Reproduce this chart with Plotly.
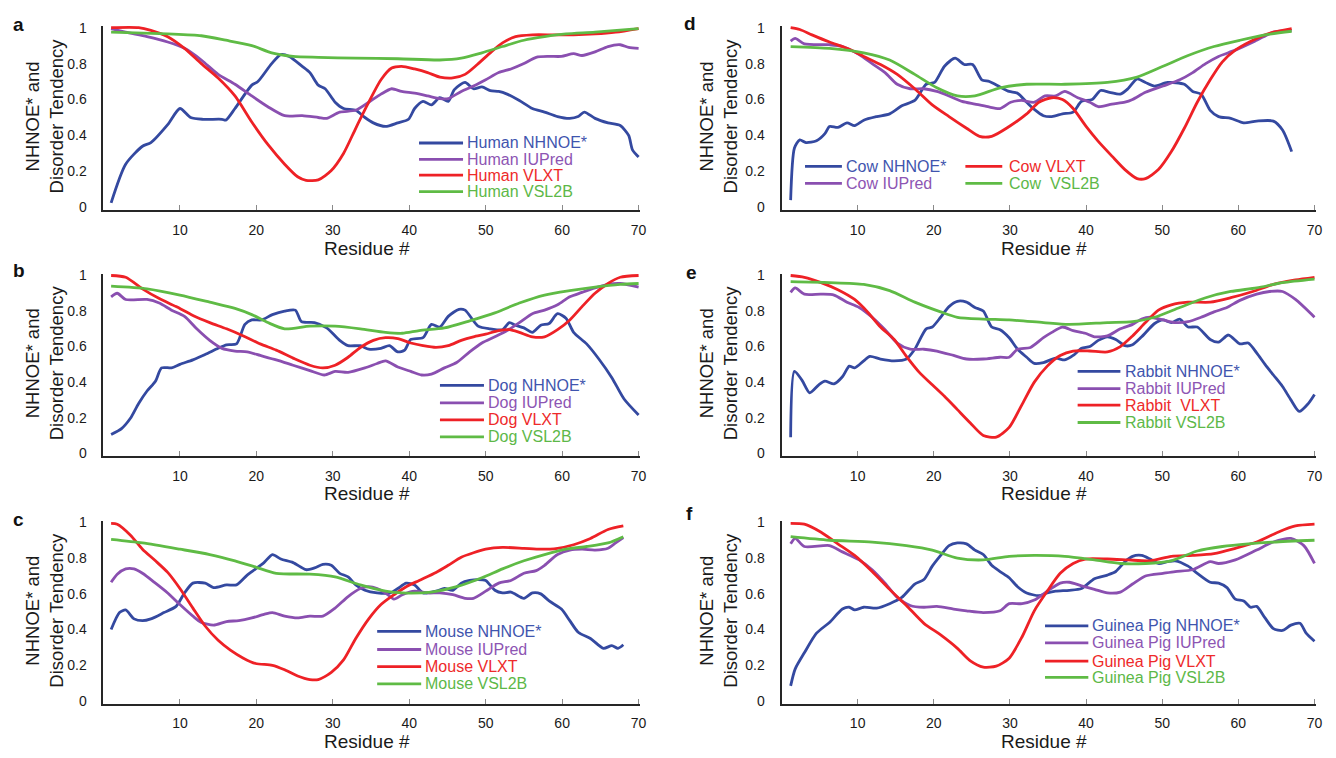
import plotly.graph_objects as go

# ---------------- Panel a: Human ----------------
human_nhnoe_x = [1, 2.9, 5.1, 6.2, 8.4, 10, 11.4, 13, 15.5, 16, 17.2, 19.4, 20.2, 22, 23.2, 24.3, 26, 27, 28.1, 29, 30.3, 31.4, 33, 34.2, 35.3, 36.9, 38.5, 39.9, 40.7, 41.8, 42.9, 44, 45.1, 45.9, 47.3, 48.4, 49.5, 50.6, 51.7, 52.8, 54.4, 56.1, 57.7, 59.4, 61, 62.1, 62.9, 64.3, 66, 67.6, 68.7, 69.2, 70]
human_nhnoe_y = [0.025, 0.24, 0.34, 0.36, 0.46, 0.55, 0.50, 0.49, 0.49, 0.485, 0.55, 0.68, 0.70, 0.80, 0.85, 0.84, 0.785, 0.75, 0.68, 0.66, 0.585, 0.55, 0.54, 0.50, 0.47, 0.45, 0.47, 0.49, 0.55, 0.59, 0.57, 0.61, 0.59, 0.655, 0.695, 0.66, 0.67, 0.65, 0.645, 0.63, 0.595, 0.55, 0.53, 0.505, 0.495, 0.505, 0.53, 0.495, 0.47, 0.455, 0.40, 0.32, 0.28]
human_iupred_x = [1, 2.9, 5.7, 8.4, 10.6, 12.8, 15, 17.2, 19.4, 21.5, 23.7, 26, 28.1, 29.2, 30.9, 33, 34.7, 36.3, 37.7, 39, 40.7, 42.4, 44, 45.1, 46.8, 48.4, 50, 51.7, 53.3, 55, 56.6, 58.3, 59.9, 61.5, 62.6, 64.3, 66, 67.6, 68.7, 70]
human_iupred_y = [0.995, 0.975, 0.95, 0.92, 0.885, 0.82, 0.74, 0.685, 0.62, 0.56, 0.51, 0.51, 0.50, 0.495, 0.53, 0.54, 0.585, 0.63, 0.66, 0.645, 0.635, 0.62, 0.605, 0.605, 0.645, 0.675, 0.71, 0.75, 0.77, 0.80, 0.835, 0.84, 0.84, 0.855, 0.845, 0.865, 0.895, 0.905, 0.89, 0.885]
human_vlxt_x = [1, 4.6, 6.2, 8.4, 10.6, 12.8, 15, 17.2, 19.4, 21.5, 23.7, 25.4, 26.5, 28.1, 29.8, 31.4, 33, 34.7, 36.3, 37.7, 39, 40.7, 42.4, 44, 45.7, 47.3, 48.9, 50.6, 52.2, 53.9, 56.1, 58.8, 61.5, 64.3, 67, 70]
human_vlxt_y = [1.0, 1.0, 0.985, 0.95, 0.885, 0.80, 0.72, 0.62, 0.475, 0.35, 0.24, 0.17, 0.15, 0.153, 0.205, 0.30, 0.44, 0.585, 0.71, 0.775, 0.785, 0.77, 0.75, 0.725, 0.72, 0.74, 0.795, 0.86, 0.915, 0.95, 0.96, 0.96, 0.96, 0.965, 0.975, 0.995]
human_vsl2b_x = [1, 8.4, 12.8, 16, 19.4, 22, 24.8, 28.1, 33, 38.5, 44, 46.8, 49.5, 52.2, 55, 57.7, 60.5, 64.3, 70]
human_vsl2b_y = [0.975, 0.965, 0.955, 0.93, 0.90, 0.86, 0.84, 0.835, 0.83, 0.827, 0.82, 0.83, 0.86, 0.895, 0.93, 0.95, 0.965, 0.975, 0.995]

# ---------------- Panel b: Dog ----------------
dog_nhnoe_x = [1, 2.4, 3.5, 4.6, 5.7, 6.8, 7.6, 8.9, 10, 11.7, 13.3, 15, 16.1, 17.4, 18.5, 19.4, 20.7, 22.1, 23.7, 25.1, 25.9, 27.6, 29.2, 30.9, 32, 33.6, 34.7, 36.3, 37.4, 38.5, 39.4, 40.2, 41.8, 42.9, 44, 45.1, 46.5, 47.3, 49, 50.6, 52.2, 53.1, 53.9, 55, 56.1, 57.2, 58.3, 59.4, 60.5, 61.5, 63.2, 64.8, 66.5, 68.1, 70]
dog_nhnoe_y = [0.105, 0.14, 0.195, 0.28, 0.35, 0.405, 0.48, 0.48, 0.50, 0.525, 0.555, 0.59, 0.61, 0.615, 0.725, 0.75, 0.75, 0.78, 0.80, 0.805, 0.74, 0.735, 0.705, 0.635, 0.605, 0.605, 0.585, 0.59, 0.605, 0.57, 0.58, 0.64, 0.65, 0.725, 0.71, 0.77, 0.81, 0.805, 0.715, 0.70, 0.695, 0.735, 0.72, 0.705, 0.68, 0.72, 0.73, 0.785, 0.76, 0.68, 0.615, 0.53, 0.425, 0.305, 0.215]
dog_iupred_x = [1, 1.8, 2.9, 5.7, 7.3, 8.9, 10.6, 12.2, 13.9, 15.5, 17.2, 18.8, 20.5, 22.6, 24.8, 27, 28.9, 30.3, 32, 34.2, 35.8, 36.9, 38.5, 40.2, 41.6, 42.9, 44.6, 46.2, 47.9, 49.5, 51.2, 52.8, 54.4, 56.1, 57.7, 59.4, 61, 62.6, 64.3, 66, 67.6, 70]
dog_iupred_y = [0.88, 0.90, 0.865, 0.865, 0.845, 0.805, 0.77, 0.70, 0.635, 0.59, 0.575, 0.57, 0.55, 0.525, 0.495, 0.465, 0.44, 0.46, 0.455, 0.48, 0.505, 0.52, 0.485, 0.46, 0.44, 0.445, 0.48, 0.51, 0.57, 0.62, 0.655, 0.69, 0.735, 0.785, 0.805, 0.835, 0.88, 0.905, 0.93, 0.95, 0.955, 0.935]
dog_vlxt_x = [1, 2.9, 5.1, 7.3, 9.5, 11.7, 13.9, 16.1, 18.3, 20.5, 22.6, 24.8, 27, 28.7, 30.3, 32, 33.6, 35.3, 36.9, 38.5, 40.2, 41.8, 43.5, 45.1, 46.8, 48.4, 50, 51.7, 53.1, 54.4, 56.1, 57.7, 59.4, 61, 62.6, 64.3, 66, 67.6, 70]
dog_vlxt_y = [1.0, 0.99, 0.925, 0.87, 0.825, 0.775, 0.735, 0.70, 0.66, 0.615, 0.58, 0.535, 0.495, 0.48, 0.495, 0.54, 0.595, 0.635, 0.65, 0.645, 0.62, 0.605, 0.595, 0.605, 0.635, 0.655, 0.67, 0.69, 0.695, 0.68, 0.655, 0.655, 0.695, 0.75, 0.825, 0.90, 0.955, 0.99, 1.0]
dog_vsl2b_x = [1, 5.7, 10, 13.9, 17.2, 19.4, 21.5, 23.7, 27, 30.3, 33.6, 36.9, 39.1, 41.3, 44.6, 47.9, 51.2, 54.4, 57.7, 61, 64.3, 67.6, 70]
dog_vsl2b_y = [0.94, 0.925, 0.89, 0.85, 0.815, 0.78, 0.735, 0.70, 0.715, 0.715, 0.70, 0.68, 0.675, 0.69, 0.705, 0.745, 0.79, 0.845, 0.89, 0.915, 0.935, 0.95, 0.955]

# ---------------- Panel c: Mouse ----------------
mouse_nhnoe_x = [1, 2.1, 2.9, 4, 5.1, 6.2, 7.9, 9.5, 10.6, 11.7, 13.3, 14.4, 16.1, 17.4, 18.8, 19.9, 21, 22.1, 23.2, 24.8, 26.5, 27.6, 28.7, 29.8, 30.9, 32, 33, 34.2, 35.8, 37.5, 38.5, 39.6, 40.7, 41.8, 43.5, 44.6, 45.7, 46.8, 47.9, 49, 50, 51.2, 52.2, 53.3, 55, 56.1, 57.2, 58.3, 59.9, 61, 62.1, 63.7, 65.4, 66.5, 67.3, 68]
mouse_nhnoe_y = [0.40, 0.495, 0.51, 0.46, 0.45, 0.46, 0.495, 0.53, 0.605, 0.66, 0.66, 0.635, 0.65, 0.65, 0.705, 0.74, 0.775, 0.82, 0.795, 0.775, 0.735, 0.745, 0.765, 0.76, 0.715, 0.695, 0.65, 0.62, 0.605, 0.605, 0.63, 0.66, 0.65, 0.605, 0.615, 0.63, 0.62, 0.66, 0.675, 0.68, 0.675, 0.62, 0.605, 0.61, 0.575, 0.605, 0.60, 0.56, 0.515, 0.45, 0.385, 0.35, 0.295, 0.31, 0.295, 0.315]
mouse_iupred_x = [1, 1.8, 2.9, 4, 5.1, 6.8, 8.4, 10, 11.7, 12.8, 14.4, 16.1, 17.7, 19.4, 21, 22.1, 23.7, 25.4, 27, 28.7, 30.3, 32, 33.6, 34.7, 35.8, 36.9, 38, 39.1, 40.7, 42.4, 44, 45.7, 47.3, 48.4, 50, 51.7, 53.3, 55, 56.6, 57.7, 59.4, 61, 62.6, 64.3, 66, 67, 68]
mouse_iupred_y = [0.665, 0.71, 0.74, 0.74, 0.715, 0.66, 0.605, 0.54, 0.475, 0.44, 0.425, 0.445, 0.45, 0.465, 0.485, 0.495, 0.475, 0.465, 0.475, 0.475, 0.52, 0.585, 0.63, 0.64, 0.63, 0.605, 0.57, 0.595, 0.615, 0.605, 0.605, 0.595, 0.575, 0.575, 0.615, 0.66, 0.675, 0.715, 0.73, 0.76, 0.82, 0.845, 0.85, 0.845, 0.855, 0.885, 0.915]
mouse_vlxt_x = [1, 1.8, 3.5, 5.1, 6.8, 8.4, 10, 11.7, 13.3, 15, 16.6, 18.3, 19.9, 22.1, 23.7, 25.4, 27, 28.1, 29.8, 31.4, 33, 34.7, 36.3, 38, 39.6, 41.3, 43.5, 45.1, 46.8, 48.4, 50, 52.2, 55, 57.2, 59.4, 61.5, 63.7, 66, 68]
mouse_vlxt_y = [0.995, 0.99, 0.93, 0.85, 0.785, 0.72, 0.63, 0.52, 0.42, 0.34, 0.285, 0.24, 0.21, 0.20, 0.175, 0.14, 0.12, 0.12, 0.16, 0.23, 0.35, 0.46, 0.54, 0.595, 0.64, 0.675, 0.72, 0.76, 0.805, 0.83, 0.85, 0.86, 0.855, 0.85, 0.855, 0.875, 0.91, 0.96, 0.98]
mouse_vsl2b_x = [1, 5.1, 10, 13.9, 17.2, 19.9, 22.6, 27, 30.3, 33.6, 36.9, 39.1, 42.9, 46.2, 49.5, 52.2, 55, 57.7, 60.5, 63.2, 66, 68]
mouse_vsl2b_y = [0.905, 0.885, 0.85, 0.82, 0.785, 0.75, 0.715, 0.71, 0.695, 0.65, 0.615, 0.605, 0.61, 0.64, 0.69, 0.74, 0.785, 0.82, 0.85, 0.865, 0.885, 0.92]

# ---------------- Panel d: Cow ----------------
cow_nhnoe_x = [1.2, 1.7, 2.4, 3.2, 4.6, 5.7, 6.3, 7.4, 8.6, 9.6, 10.8, 12.5, 14.2, 15.8, 17.5, 19.0, 20.1, 21.4, 22.8, 24.0, 25.1, 26.3, 27.3, 28.7, 29.9, 31.0, 32.2, 33.2, 34.4, 35.5, 36.9, 38.3, 39.4, 40.8, 41.9, 43.1, 44.5, 45.5, 46.7, 47.8, 49.0, 50.7, 52.9, 54.0, 55.1, 56.3, 57.4, 59.0, 60.7, 62.4, 64.6, 65.8, 67]
cow_nhnoe_y = [0.04, 0.33, 0.375, 0.36, 0.37, 0.41, 0.45, 0.445, 0.47, 0.455, 0.485, 0.505, 0.52, 0.565, 0.595, 0.685, 0.695, 0.785, 0.83, 0.795, 0.795, 0.71, 0.70, 0.67, 0.645, 0.635, 0.585, 0.545, 0.51, 0.505, 0.52, 0.53, 0.59, 0.60, 0.65, 0.64, 0.63, 0.66, 0.715, 0.695, 0.675, 0.695, 0.685, 0.645, 0.63, 0.54, 0.505, 0.495, 0.47, 0.48, 0.48, 0.43, 0.31]
cow_iupred_x = [1.2, 1.8, 3.0, 6.3, 8.0, 10.2, 11.9, 13.6, 15.2, 16.9, 18.7, 20.4, 22.0, 23.7, 25.4, 27.1, 28.7, 30.1, 31.5, 33.2, 34.6, 36.0, 37.2, 38.9, 40.5, 41.6, 43.4, 45.1, 46.1, 47.8, 50.1, 52.3, 54.0, 55.7, 57.4, 59.6, 62.4, 64.6, 67]
cow_iupred_y = [0.925, 0.94, 0.91, 0.905, 0.895, 0.85, 0.80, 0.75, 0.685, 0.66, 0.66, 0.645, 0.62, 0.59, 0.575, 0.56, 0.55, 0.585, 0.595, 0.585, 0.62, 0.62, 0.645, 0.61, 0.585, 0.56, 0.575, 0.585, 0.60, 0.64, 0.675, 0.71, 0.75, 0.80, 0.84, 0.875, 0.93, 0.975, 0.985]
cow_vlxt_x = [1.2, 2.4, 4.0, 6.3, 8.6, 10.8, 13.0, 15.2, 17.5, 19.8, 22.0, 24.3, 26.0, 27.6, 29.9, 32.2, 33.8, 35.5, 36.9, 38.3, 40.0, 41.6, 43.4, 45.1, 46.7, 47.8, 49.5, 51.2, 52.9, 54.6, 56.3, 57.9, 59.6, 62.4, 64.6, 67]
cow_vlxt_y = [1.0, 0.99, 0.96, 0.92, 0.885, 0.84, 0.795, 0.74, 0.66, 0.57, 0.505, 0.44, 0.395, 0.395, 0.45, 0.52, 0.585, 0.61, 0.60, 0.55, 0.45, 0.367, 0.285, 0.21, 0.16, 0.16, 0.21, 0.31, 0.44, 0.585, 0.71, 0.81, 0.875, 0.94, 0.975, 0.995]
cow_vsl2b_x = [1.2, 6.3, 10.8, 14.2, 17.5, 20.4, 23.1, 25.4, 28.7, 32.2, 37.2, 42.8, 46.7, 50.1, 53.4, 56.8, 60.2, 63.5, 67]
cow_vsl2b_y = [0.895, 0.885, 0.86, 0.82, 0.74, 0.665, 0.62, 0.62, 0.665, 0.685, 0.685, 0.695, 0.725, 0.785, 0.845, 0.895, 0.93, 0.96, 0.98]

# ---------------- Panel e: Rabbit ----------------
rabbit_nhnoe_x = [1.2, 1.7, 2.7, 3.7, 4.9, 5.7, 6.9, 8.0, 8.9, 9.6, 10.8, 11.6, 13.0, 14.8, 16.4, 17.5, 19.0, 19.8, 20.9, 22.0, 23.1, 24.3, 25.4, 26.5, 27.6, 28.7, 29.9, 31.0, 32.2, 33.2, 34.4, 36.0, 37.2, 38.3, 39.4, 40.5, 41.6, 42.8, 43.9, 45.1, 46.1, 47.3, 49.0, 50.1, 51.2, 52.3, 53.4, 54.6, 56.3, 57.4, 58.7, 60.2, 61.3, 62.4, 63.5, 64.6, 65.8, 66.9, 68.0, 69.2, 70]
rabbit_nhnoe_y = [0.09, 0.46, 0.41, 0.34, 0.385, 0.405, 0.39, 0.43, 0.49, 0.48, 0.52, 0.545, 0.53, 0.52, 0.53, 0.585, 0.70, 0.71, 0.765, 0.825, 0.855, 0.85, 0.82, 0.80, 0.71, 0.695, 0.65, 0.585, 0.54, 0.505, 0.51, 0.535, 0.525, 0.55, 0.59, 0.60, 0.635, 0.655, 0.64, 0.605, 0.61, 0.655, 0.73, 0.75, 0.735, 0.755, 0.71, 0.71, 0.64, 0.625, 0.665, 0.615, 0.62, 0.565, 0.50, 0.44, 0.375, 0.30, 0.235, 0.28, 0.33]
rabbit_iupred_x = [1.2, 1.8, 3.0, 5.2, 6.9, 8.6, 10.2, 11.9, 13.6, 15.2, 16.9, 18.7, 20.4, 22.6, 24.3, 26.5, 28.7, 29.9, 31.0, 32.7, 34.4, 35.5, 36.9, 38.3, 39.9, 41.1, 42.8, 44.5, 46.1, 47.3, 48.4, 50.1, 51.7, 53.4, 55.1, 56.8, 58.5, 60.2, 62.4, 64.1, 65.8, 67.5, 70]
rabbit_iupred_y = [0.905, 0.93, 0.895, 0.895, 0.89, 0.85, 0.82, 0.765, 0.695, 0.62, 0.585, 0.585, 0.575, 0.55, 0.53, 0.53, 0.54, 0.54, 0.585, 0.595, 0.65, 0.68, 0.71, 0.69, 0.675, 0.655, 0.66, 0.70, 0.725, 0.755, 0.765, 0.75, 0.735, 0.74, 0.765, 0.795, 0.82, 0.86, 0.895, 0.91, 0.91, 0.865, 0.765]
rabbit_vlxt_x = [1.2, 3.0, 5.2, 7.4, 9.6, 11.3, 13.0, 14.8, 16.4, 18.1, 19.8, 21.4, 23.1, 24.8, 26.5, 28.2, 29.9, 31.6, 33.2, 34.9, 36.6, 38.3, 40.5, 42.8, 44.5, 46.1, 47.8, 49.5, 51.2, 53.4, 56.3, 59.0, 61.9, 64.6, 67.5, 70]
rabbit_vlxt_y = [1.0, 0.99, 0.96, 0.92, 0.865, 0.795, 0.71, 0.64, 0.545, 0.455, 0.385, 0.32, 0.245, 0.17, 0.10, 0.09, 0.145, 0.275, 0.40, 0.49, 0.55, 0.575, 0.575, 0.57, 0.60, 0.66, 0.735, 0.805, 0.835, 0.85, 0.85, 0.875, 0.91, 0.95, 0.975, 0.99]
rabbit_vsl2b_x = [1.2, 6.3, 10.8, 14.2, 17.5, 20.9, 23.1, 26.5, 29.9, 34.4, 37.7, 42.8, 46.1, 49.0, 52.3, 55.7, 59.0, 62.4, 65.8, 70]
rabbit_vsl2b_y = [0.965, 0.96, 0.95, 0.915, 0.85, 0.795, 0.765, 0.755, 0.75, 0.735, 0.725, 0.735, 0.74, 0.765, 0.82, 0.875, 0.91, 0.93, 0.96, 0.98]

# ---------------- Panel f: Guinea Pig ----------------
guinea_nhnoe_x = [1.2, 1.8, 3.0, 4.6, 6.3, 8.0, 8.9, 9.6, 10.8, 12.5, 14.2, 15.8, 17.5, 18.7, 19.8, 20.9, 22.0, 23.1, 24.3, 25.4, 26.5, 27.6, 28.7, 29.9, 31.0, 32.2, 33.8, 34.9, 36.0, 37.8, 39.4, 41.1, 42.8, 43.9, 45.1, 46.1, 47.3, 48.4, 49.5, 50.7, 51.7, 53.4, 54.6, 56.3, 57.4, 58.5, 59.6, 60.7, 61.6, 62.4, 63.5, 64.6, 65.8, 66.9, 68.1, 68.9, 70]
guinea_nhnoe_y = [0.085, 0.18, 0.27, 0.38, 0.44, 0.515, 0.525, 0.51, 0.525, 0.52, 0.545, 0.58, 0.655, 0.68, 0.755, 0.815, 0.87, 0.885, 0.88, 0.845, 0.82, 0.76, 0.725, 0.69, 0.64, 0.605, 0.59, 0.605, 0.615, 0.62, 0.63, 0.685, 0.705, 0.725, 0.78, 0.81, 0.815, 0.795, 0.77, 0.78, 0.785, 0.755, 0.715, 0.665, 0.66, 0.635, 0.57, 0.56, 0.525, 0.53, 0.465, 0.405, 0.395, 0.425, 0.435, 0.38, 0.335]
guinea_iupred_x = [1.2, 1.8, 3.0, 6.3, 8.0, 10.2, 11.9, 13.6, 15.2, 16.9, 18.7, 20.4, 22.6, 24.3, 26.5, 28.7, 29.9, 31.6, 33.2, 34.9, 36.6, 37.8, 39.4, 41.1, 42.8, 44.5, 46.1, 47.8, 50.1, 51.7, 54.0, 56.3, 57.4, 59.6, 62.4, 64.6, 66.9, 68.6, 70]
guinea_iupred_y = [0.88, 0.91, 0.865, 0.87, 0.835, 0.79, 0.735, 0.66, 0.58, 0.535, 0.525, 0.53, 0.515, 0.505, 0.495, 0.505, 0.545, 0.545, 0.565, 0.615, 0.66, 0.665, 0.645, 0.625, 0.605, 0.61, 0.655, 0.70, 0.715, 0.725, 0.735, 0.78, 0.77, 0.79, 0.845, 0.89, 0.91, 0.87, 0.77]
guinea_vlxt_x = [1.2, 3.0, 5.2, 7.4, 9.6, 11.9, 14.2, 16.4, 18.7, 20.9, 23.1, 24.8, 26.5, 28.2, 29.9, 31.6, 33.2, 34.9, 36.6, 38.3, 39.9, 42.8, 45.5, 48.4, 51.2, 54.0, 56.8, 59.6, 62.4, 65.2, 67.5, 70]
guinea_vlxt_y = [0.995, 0.99, 0.945, 0.88, 0.815, 0.725, 0.625, 0.535, 0.435, 0.37, 0.295, 0.225, 0.19, 0.195, 0.24, 0.36, 0.505, 0.615, 0.715, 0.77, 0.795, 0.795, 0.79, 0.785, 0.81, 0.815, 0.825, 0.855, 0.89, 0.945, 0.98, 0.99]
guinea_vsl2b_x = [1.2, 6.3, 11.9, 16.4, 19.8, 23.1, 26.5, 29.9, 33.2, 37.2, 41.1, 44.5, 47.8, 51.2, 54.6, 57.9, 61.3, 64.6, 70]
guinea_vsl2b_y = [0.92, 0.90, 0.89, 0.87, 0.845, 0.80, 0.79, 0.81, 0.815, 0.81, 0.79, 0.77, 0.77, 0.785, 0.84, 0.865, 0.88, 0.89, 0.90]

# ---------------- labels ----------------
panel_letters = ["a", "b", "c", "d", "e", "f"]
species = ["Human", "Dog", "Mouse", "Cow", "Rabbit", "Guinea Pig"]
methods = ["NHNOE*", "IUPred", "VLXT", "VSL2B"]
x_tick_vals = [10, 20, 30, 40, 50, 60, 70]
y_tick_vals = [0, 0.2, 0.4, 0.6, 0.8, 1.0]
y_tick_text = ["0", "0.2", "0.4", "0.6", "0.8", "1"]
legend_labels = [
    ["Human NHNOE*", "Human IUPred", "Human VLXT", "Human VSL2B"],
    ["Dog NHNOE*", "Dog IUPred", "Dog VLXT", "Dog VSL2B"],
    ["Mouse NHNOE*", "Mouse IUPred", "Mouse VLXT", "Mouse VSL2B"],
    ["Cow NHNOE*", "Cow IUPred", "Cow VLXT", "Cow\u00a0 VSL2B"],
    ["Rabbit NHNOE*", "Rabbit IUPred", "Rabbit\u00a0 VLXT", "Rabbit VSL2B"],
    ["Guinea Pig NHNOE*", "Guinea Pig IUPred", "Guinea Pig VLXT", "Guinea Pig VSL2B"],
]

panel_series = [
    [(human_nhnoe_x, human_nhnoe_y), (human_iupred_x, human_iupred_y), (human_vlxt_x, human_vlxt_y), (human_vsl2b_x, human_vsl2b_y)],
    [(dog_nhnoe_x, dog_nhnoe_y), (dog_iupred_x, dog_iupred_y), (dog_vlxt_x, dog_vlxt_y), (dog_vsl2b_x, dog_vsl2b_y)],
    [(mouse_nhnoe_x, mouse_nhnoe_y), (mouse_iupred_x, mouse_iupred_y), (mouse_vlxt_x, mouse_vlxt_y), (mouse_vsl2b_x, mouse_vsl2b_y)],
    [(cow_nhnoe_x, cow_nhnoe_y), (cow_iupred_x, cow_iupred_y), (cow_vlxt_x, cow_vlxt_y), (cow_vsl2b_x, cow_vsl2b_y)],
    [(rabbit_nhnoe_x, rabbit_nhnoe_y), (rabbit_iupred_x, rabbit_iupred_y), (rabbit_vlxt_x, rabbit_vlxt_y), (rabbit_vsl2b_x, rabbit_vsl2b_y)],
    [(guinea_nhnoe_x, guinea_nhnoe_y), (guinea_iupred_x, guinea_iupred_y), (guinea_vlxt_x, guinea_vlxt_y), (guinea_vsl2b_x, guinea_vsl2b_y)],
]

# ---------------- styles / layout ----------------
LINE_COLORS = ["#3449a0", "#8a4fb0", "#ee2126", "#5fbb45"]
TEXT_COLORS = ["#3f55ae", "#8d55b3", "#ee2a2a", "#5db848"]
FONT = "Liberation Sans, Arial, Helvetica, sans-serif"
W, H = 1336, 758

x_domains = [[0.0778, 0.4813]] * 3 + [[0.5876, 0.9895]] * 3
row_domains = [[0.7269, 0.9734], [0.3978, 0.6416], [0.0660, 0.3111]]
y_domains = row_domains + row_domains
ytitle_shift = [-59, -59, -59, -63, -63, -63]
xtitle_shift = [-38, -38, -37.5, -38, -38, -37.5]
letter_pos = [(19, 19), (19, 268), (19, 521), (693, 18), (695, 270), (693, 515)]

# legend entry placement in subplot-domain fractions: (x0, x1, xtext, y)
legend_place = [
    [(0.588, 0.670, 0.673, 0.364), (0.588, 0.670, 0.673, 0.275), (0.588, 0.670, 0.673, 0.189), (0.588, 0.670, 0.673, 0.100)],
    [(0.627, 0.709, 0.713, 0.387), (0.627, 0.709, 0.713, 0.291), (0.627, 0.709, 0.713, 0.198), (0.627, 0.709, 0.713, 0.104)],
    [(0.510, 0.592, 0.596, 0.395), (0.510, 0.592, 0.596, 0.296), (0.510, 0.592, 0.596, 0.203), (0.510, 0.592, 0.596, 0.108)],
    [(0.044, 0.113, 0.117, 0.237), (0.044, 0.113, 0.117, 0.145), (0.344, 0.413, 0.421, 0.237), (0.344, 0.413, 0.421, 0.145)],
    [(0.554, 0.634, 0.639, 0.464), (0.554, 0.634, 0.639, 0.369), (0.554, 0.634, 0.639, 0.279), (0.554, 0.634, 0.639, 0.183)],
    [(0.493, 0.574, 0.578, 0.425), (0.493, 0.574, 0.578, 0.332), (0.493, 0.574, 0.578, 0.233), (0.493, 0.574, 0.578, 0.144)],
]

fig = go.Figure()
layout = dict(
    width=W, height=H,
    margin=dict(l=0, r=0, t=0, b=0),
    paper_bgcolor="white", plot_bgcolor="white",
    showlegend=False,
    font=dict(family=FONT, color="#1a1a1a"),
)
annotations = []
shapes = []

for p in range(6):
    n = p + 1
    xa = "x" if n == 1 else f"x{n}"
    ya = "y" if n == 1 else f"y{n}"
    for m in range(4):
        xs, ys = panel_series[p][m]
        fig.add_trace(go.Scatter(
            x=xs, y=ys, mode="lines",
            name=f"{species[p]} {methods[m]}",
            line=dict(color=LINE_COLORS[m], width=2.8, shape="spline", smoothing=0.7),
            xaxis=xa, yaxis=ya,
        ))
    layout["xaxis" if n == 1 else f"xaxis{n}"] = dict(
        domain=x_domains[p], anchor=ya, range=[0, 70.2],
        showline=True, linecolor="#262626", linewidth=1.8,
        ticks="inside", ticklen=5, tickwidth=1, tickcolor="#8a8a8a",
        tickvals=x_tick_vals, ticklabelstandoff=6,
        tickfont=dict(size=14, family=FONT, color="#1a1a1a"),
        showgrid=False, zeroline=False, fixedrange=True,
    )
    layout["yaxis" if n == 1 else f"yaxis{n}"] = dict(
        domain=y_domains[p], anchor=xa, range=[-0.015, 1.01],
        showline=True, linecolor="#262626", linewidth=1.8,
        ticks="", tickvals=y_tick_vals, ticktext=y_tick_text,
        ticklabelstandoff=12,
        tickfont=dict(size=14, family=FONT, color="#1a1a1a"),
        showgrid=False, zeroline=False, fixedrange=True,
    )
    xd = f"{xa} domain"
    yd = f"{ya} domain"
    annotations.append(dict(
        text="Residue #", xref=xd, yref=yd, x=0.5, y=0, xshift=-5, yshift=xtitle_shift[p],
        xanchor="center", yanchor="middle", showarrow=False,
        font=dict(size=19, family=FONT, color="#1a1a1a"),
    ))
    annotations.append(dict(
        text="NHNOE* and<br>Disorder Tendency", xref=xd, yref=yd, x=0, y=0.5,
        xshift=ytitle_shift[p], yshift=2, textangle=-90,
        xanchor="center", yanchor="middle", showarrow=False,
        font=dict(size=18.5, family=FONT, color="#1a1a1a"),
    ))
    lx, ly = letter_pos[p]
    annotations.append(dict(
        text=f"<b>{panel_letters[p]}</b>", xref="paper", yref="paper",
        x=lx / W, y=1 - ly / H, xanchor="center", yanchor="middle", showarrow=False,
        font=dict(size=19, family=FONT, color="#111111"),
    ))
    for m in range(4):
        x0, x1, xt, yy = legend_place[p][m]
        shapes.append(dict(
            type="line", xref=xd, yref=yd, x0=x0, x1=x1, y0=yy, y1=yy,
            line=dict(color=LINE_COLORS[m], width=2.8),
        ))
        annotations.append(dict(
            text=legend_labels[p][m], xref=xd, yref=yd, x=xt, y=yy,
            xanchor="left", yanchor="middle", showarrow=False,
            font=dict(size=16, family=FONT, color=TEXT_COLORS[m]),
        ))

layout["annotations"] = annotations
layout["shapes"] = shapes
fig.update_layout(**layout)
fig.write_html(
    "out.html",
    config={"displayModeBar": False},
    post_script="document.body.style.margin='0';document.body.style.overflow='hidden';",
)
